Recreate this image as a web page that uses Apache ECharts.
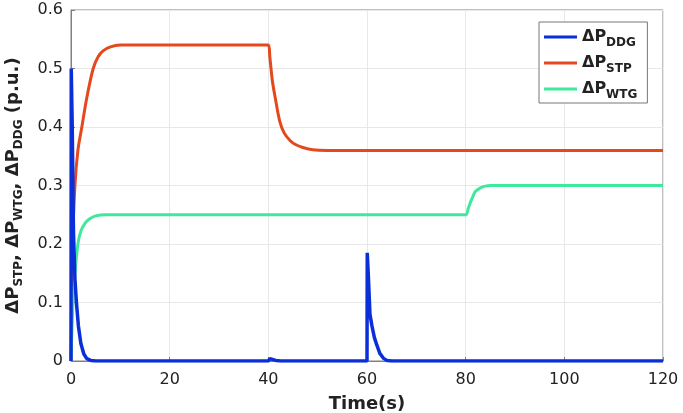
<!DOCTYPE html>
<html><head><meta charset="utf-8">
<script src="https://cdn.jsdelivr.net/npm/echarts@6/dist/echarts.min.js"></script>
<style>html,body{margin:0;padding:0;background:#fff}#c{width:683px;height:413px}</style>
</head><body><div id="c"></div>
<script>
// Time(s), value (p.u.) pairs
const ddg = [[0,0],[0.05,0.5],[0.25,0.4],[0.5,0.22],[0.8,0.14],[1.1,0.1],[1.5,0.06],[2,0.03],[2.6,0.012],[3.2,0.004],[4,0.001],[5,0],
  [40,0],[40.3,0.004],[41.5,0.001],[42.5,0],
  [60,0],[60.05,0.185],[60.25,0.15],[60.6,0.08],[61,0.06],[61.5,0.04],[62,0.027],[62.6,0.013],[63.3,0.005],[64,0.001],[65,0],[120,0]];
const stp = [[0,0],[0.35,0.2],[0.8,0.3],[1.4,0.36],[2.2,0.4],[3.2,0.45],[4.5,0.5],[5.5,0.52],[6.5,0.53],[8,0.537],[10,0.54],[40,0.54],
  [40.3,0.52],[40.8,0.48],[41.4,0.45],[42.3,0.41],[43.2,0.39],[44.4,0.377],[45.5,0.37],[47,0.365],[49,0.361],[52,0.36],[120,0.36]];
const wtg = [[0,0],[0.4,0.1],[0.8,0.15],[1.4,0.2],[2,0.222],[2.8,0.235],[3.8,0.243],[5,0.248],[7,0.25],[80,0.25],
  [80.5,0.26],[81,0.272],[81.5,0.282],[82,0.29],[83,0.296],[84,0.299],[85,0.3],[120,0.3]];
const seriesNames = ['DDG','STP','WTG'];
const xTicks = {min:0, max:120, interval:20};
const yTicks = {min:0, max:0.6, interval:0.1};

const chart = echarts.init(document.getElementById('c'));
const font = 'DejaVu Sans, Verdana, sans-serif';
chart.setOption({
  animation:false,
  grid:{left:71,right:20,top:10,bottom:52,show:true,borderColor:'#808080',borderWidth:1,
    containLabel:false,outerBoundsMode:'none'},
  legend:{
    data:seriesNames, orient:'vertical', left:539, top:22,
    padding:[3,10,2,5], itemGap:2, borderColor:'#777', borderWidth:1, backgroundColor:'#fff',
    icon:'rect', itemWidth:33, itemHeight:3,
    formatter:n=>'{m|ΔP}{s|'+n+'}',
    textStyle:{rich:{
      m:{fontFamily:font,fontSize:16,fontWeight:'bold',color:'#222',lineHeight:20},
      s:{fontFamily:font,fontSize:12,fontWeight:'bold',color:'#222',lineHeight:14,padding:[12,0,0,0]}
    }}
  },
  xAxis:{type:'value',min:xTicks.min,max:xTicks.max,interval:xTicks.interval,
    name:'Time(s)',nameLocation:'middle',nameGap:34,
    nameTextStyle:{fontFamily:font,fontSize:18,fontWeight:'bold',color:'#222'},
    axisLine:{lineStyle:{color:'#808080'}},axisTick:{inside:true,length:4,lineStyle:{color:'#808080'}},
    axisLabel:{fontFamily:font,fontSize:16,color:'#222',margin:11},
    splitLine:{lineStyle:{color:'#e8e8e8'}}},
  yAxis:{type:'value',min:yTicks.min,max:yTicks.max,interval:yTicks.interval,
    name:'{m|ΔP}{s|STP}{m|, ΔP}{s|WTG}{m|, ΔP}{s|DDG}{m| (p.u.)}',nameLocation:'middle',nameGap:47,nameRotate:90,
    nameTextStyle:{rich:{
      m:{fontFamily:font,fontSize:18,fontWeight:'bold',color:'#222',lineHeight:22},
      s:{fontFamily:font,fontSize:12,fontWeight:'bold',color:'#222',lineHeight:14,padding:[12,0,0,0]}
    }},
    axisLine:{show:true,lineStyle:{color:'#808080'}},axisTick:{show:true,inside:true,length:4,lineStyle:{color:'#808080'}},
    axisLabel:{fontFamily:font,fontSize:16,color:'#222',margin:8},
    splitLine:{lineStyle:{color:'#e8e8e8'}}},
  series:[
    {name:'DDG',type:'line',data:ddg,showSymbol:false,symbol:'none',z:5,lineStyle:{color:'#0a2fd8',width:3.5},itemStyle:{color:'#0a2fd8'}},
    {name:'STP',type:'line',data:stp,showSymbol:false,symbol:'none',z:3,smooth:0.3,lineStyle:{color:'#e4481c',width:3},itemStyle:{color:'#e4481c'}},
    {name:'WTG',type:'line',data:wtg,showSymbol:false,symbol:'none',z:4,smooth:0.3,lineStyle:{color:'#3ee89c',width:3},itemStyle:{color:'#3ee89c'}}
  ]
});
</script></body></html>
